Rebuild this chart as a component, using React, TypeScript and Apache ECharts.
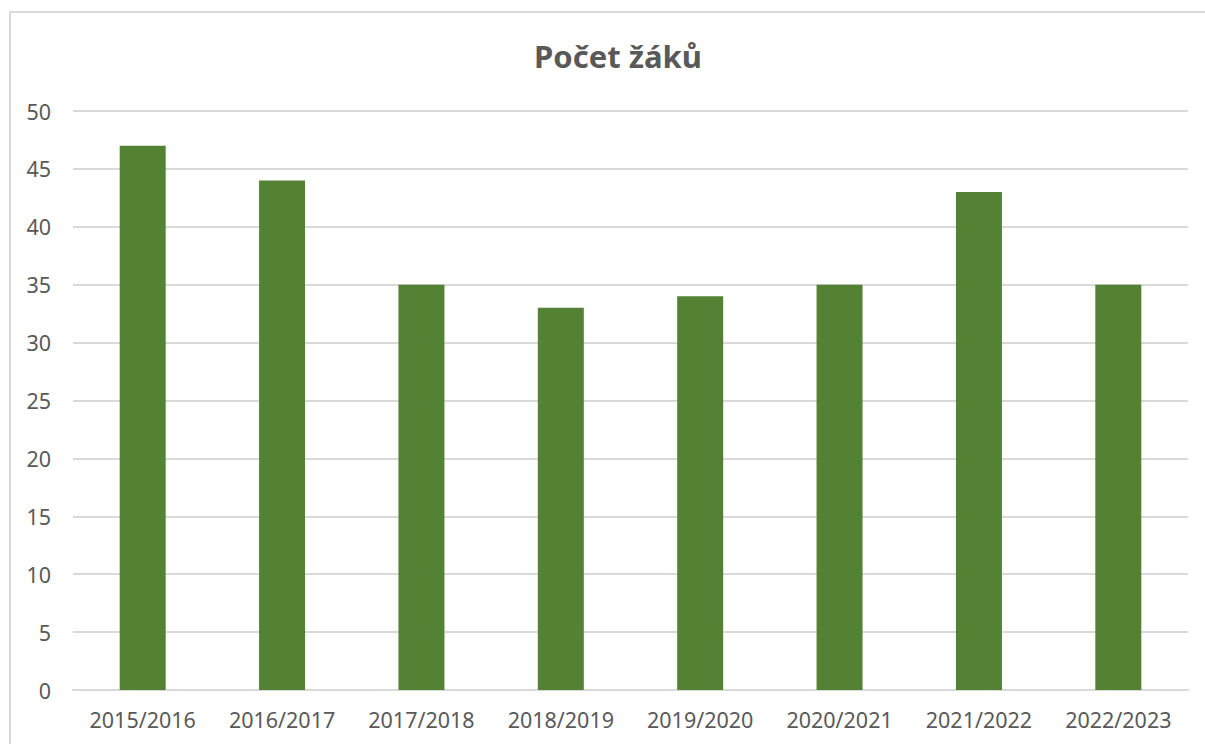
import React, { useEffect, useRef } from "react";
import * as echarts from "echarts";

const title = "Počet žáků";
const categories = ["2015/2016", "2016/2017", "2017/2018", "2018/2019", "2019/2020", "2020/2021", "2021/2022", "2022/2023"];
const values = [47, 44, 35, 33, 34, 35, 43, 35];

export default function App() {
  const ref = useRef<HTMLDivElement>(null);
  useEffect(() => {
    document.body.style.margin = "0";
    const chart = echarts.init(ref.current!, null, { renderer: "svg" });
    chart.setOption({
      animation: false,
      backgroundColor: "#ffffff",
      title: {
        text: title,
        left: 613,
        textAlign: "center",
        top: 35,
        textStyle: { fontFamily: "Noto Sans", fontSize: 31, fontWeight: "bold", color: "#595959" },
      },
      graphic: [
        {
          type: "rect",
          shape: { x: 10, y: 12, width: 1220, height: 760 },
          style: { fill: "none", stroke: "#d9d9d9", lineWidth: 2 },
          silent: true,
        },
      ],
      grid: { left: 73, right: 17, top: 111, bottom: 54, containLabel: false },
      xAxis: {
        type: "category",
        data: categories,
        axisLine: { show: true, lineStyle: { color: "#d9d9d9", width: 2 } },
        axisTick: { show: false },
        axisLabel: { color: "#595959", fontFamily: "Noto Sans", fontSize: 21.5, margin: 18 },
      },
      yAxis: {
        type: "value",
        min: 0,
        max: 50,
        interval: 5,
        axisLine: { show: false },
        axisTick: { show: false },
        splitLine: { lineStyle: { color: "#d9d9d9", width: 2 } },
        axisLabel: { color: "#595959", fontFamily: "Noto Sans", fontSize: 21.5, margin: 22 },
      },
      series: [
        {
          type: "bar",
          data: values,
          barWidth: "33%",
          itemStyle: { color: "#548235" },
        },
      ],
    });
    return () => chart.dispose();
  }, []);
  return <div ref={ref} style={{ width: 1205, height: 744 }} />;
}
